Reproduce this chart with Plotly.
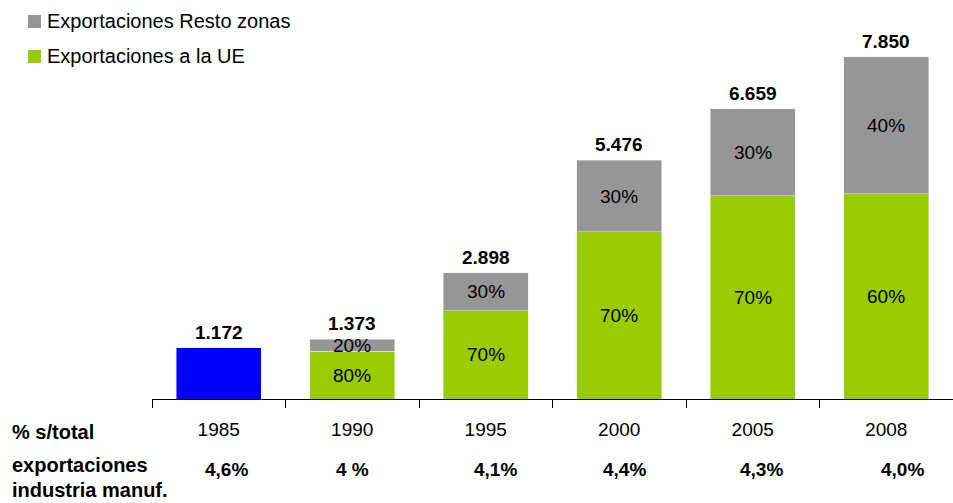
import plotly.graph_objects as go

# Exportaciones (valor total por año) y reparto por destino
years = ["1985", "1990", "1995", "2000", "2005", "2008"]
totals = [1.172, 1.373, 2.898, 5.476, 6.659, 7.850]
total_labels = ["1.172", "1.373", "2.898", "5.476", "6.659", "7.850"]
ue_pct = [None, 80, 70, 70, 70, 60]
resto_pct = [None, 20, 30, 30, 30, 40]
share_labels = ["4,6%", "4 %", "4,1%", "4,4%", "4,3%", "4,0%"]
row_title = ["% s/total", "exportaciones", "industria manuf."]
legend_names = ["Exportaciones Resto zonas", "Exportaciones a la UE"]

GRAY = "#969696"
GREEN = "#99CC00"
BLUE = "#0000FF"
FONT = "Liberation Sans, Arial, sans-serif"
FS = 19

W, H = 953, 503
ML, MR, MT, MB = 152, 0, 10, 104
PLOT_H = H - MT - MB
BASE_PX = H - MB
YMAX = PLOT_H / 43.6


def py(px):
    """pixel row -> paper y"""
    return (BASE_PX - px) / PLOT_H


def px_x(px):
    """pixel column -> paper x"""
    return (px - ML) / (W - ML - MR)


ue_vals = [None if p is None else t * p / 100 for t, p in zip(totals, ue_pct)]
resto_vals = [None if p is None else t - u for t, p, u in zip(totals, resto_pct, ue_vals)]
blue_vals = [t if p is None else None for t, p in zip(totals, ue_pct)]

fig = go.Figure()
fig.add_bar(x=years, y=blue_vals, marker_color=BLUE, showlegend=False, name="Exportaciones")
fig.add_bar(x=years, y=ue_vals, marker_color=GREEN, showlegend=False, name=legend_names[1])
fig.add_bar(x=years, y=resto_vals, marker_color=GRAY, showlegend=False, name=legend_names[0])

ann = []
# totals above each bar (category index as x position)
for i, (t, lab) in enumerate(zip(totals, total_labels)):
    ann.append(dict(x=i, y=t, text=f"<b>{lab}</b>", showarrow=False, yanchor="bottom",
                    yshift=3, font=dict(size=FS, color="black", family=FONT)))
# percentages inside each segment
for i, (u, r, pu, pr) in enumerate(zip(ue_vals, resto_vals, ue_pct, resto_pct)):
    if u is None:
        continue
    ann.append(dict(x=i, y=u / 2, text=f"{pu}%", showarrow=False,
                    font=dict(size=FS, color="black", family=FONT)))
    ann.append(dict(x=i, y=u + r / 2, text=f"{pr}%", showarrow=False,
                    font=dict(size=FS, color="black", family=FONT)))
# share row under the axis
share_dx = [8, 0, 10, 5, 9, 16]
for i, (lab, dx) in enumerate(zip(share_labels, share_dx)):
    ann.append(dict(x=i, xref="x", y=py(470), yref="paper", text=f"<b>{lab}</b>",
                    showarrow=False, xshift=dx, yanchor="middle",
                    font=dict(size=FS, color="black", family=FONT)))
# row title on the left
for txt, cy in zip(row_title, [432, 465, 490]):
    ann.append(dict(x=px_x(10), xref="paper", y=py(cy), yref="paper", text=f"<b>{txt}</b>",
                    showarrow=False, xanchor="left", yanchor="middle",
                    font=dict(size=20, color="black", family=FONT)))

# legend drawn as swatches + text
shapes = []
for name, col, cy in zip(legend_names, [GRAY, GREEN], [21, 56]):
    shapes.append(dict(type="rect", xref="paper", yref="paper",
                       x0=px_x(28), x1=px_x(41), y0=py(cy + 7), y1=py(cy - 6),
                       fillcolor=col, line=dict(width=0)))
    ann.append(dict(x=px_x(45), xref="paper", y=py(cy), yref="paper", text=name,
                    showarrow=False, xanchor="left", yanchor="middle",
                    font=dict(size=20, color="black", family=FONT)))

fig.update_layout(
    width=W, height=H,
    margin=dict(l=ML, r=MR, t=MT, b=MB),
    barmode="stack", bargap=0.363,
    plot_bgcolor="white", paper_bgcolor="white",
    font=dict(family=FONT, size=FS, color="black"),
    annotations=ann, shapes=shapes,
    xaxis=dict(type="category", range=[-0.5, 5.5], showline=True, linecolor="black",
               linewidth=1, ticks="outside", tickson="boundaries", ticklen=8,
               tickcolor="black", ticklabelstandoff=13, showgrid=False,
               tickfont=dict(size=FS, color="black", family=FONT)),
    yaxis=dict(range=[0, YMAX], visible=False, showgrid=False, zeroline=False),
)

fig.write_html("out.html")
